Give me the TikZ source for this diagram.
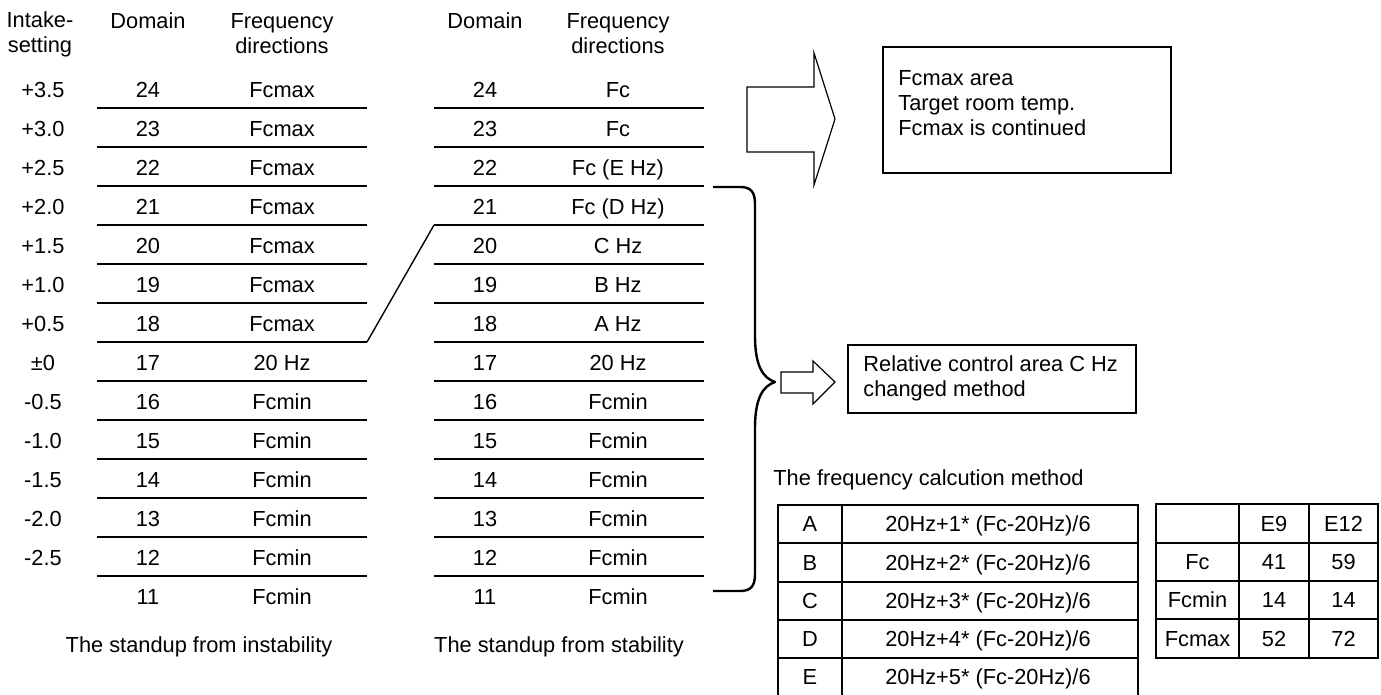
\documentclass[tikz,border=0pt]{standalone}
\usepackage{fontspec}
\setmainfont{Liberation Sans}
\usetikzlibrary{positioning,calc}

\begin{document}
\begin{tikzpicture}[x=0.5pt, y=-0.5pt,
    txt/.style={font=\fontsize{10.9}{12.6}\selectfont, inner sep=0pt},
    cell/.style={txt, text height=7.8pt, text depth=0pt},
    head/.style={txt, align=center},
    rule/.style={line width=1pt},
    grid/.style={line width=0.8pt},
    box/.style={draw, line width=0.75pt, inner sep=0pt},
    blockarrow/.style={draw, line width=0.6pt, line join=miter},
    brace/.style={line width=1.2pt, line join=round},
    link/.style={line width=0.7pt},
]

\useasboundingbox (0,0) rectangle (1381,695);

% Column headings
\node[head] (hintake) at (40,34) {Intake-\\setting};
\node[cell] (hdomA) at (148,21) {Domain};
\node[head] (hfreqA) at (282,34) {Frequency\\directions};
\node[cell] (hdomB) at (485,21) {Domain};
\node[head] (hfreqB) at (618,34) {Frequency\\directions};

% Intake settings
\foreach \v [count=\k from 0] in {+3.5,+3.0,+2.5,+2.0,+1.5,+1.0,+0.5,±0,-0.5,-1.0,-1.5,-2.0,-2.5}
  \node[cell] (in\k) at (43,90+39*\k) {\v};

% Domains and frequency directions
\foreach \d/\fa/\fb [count=\k from 0] in {24/Fcmax/Fc, 23/Fcmax/Fc, 22/Fcmax/Fc (E Hz),
    21/Fcmax/Fc (D Hz), 20/Fcmax/C Hz, 19/Fcmax/B Hz, 18/Fcmax/A Hz, 17/20 Hz/20 Hz,
    16/Fcmin/Fcmin, 15/Fcmin/Fcmin, 14/Fcmin/Fcmin, 13/Fcmin/Fcmin, 12/Fcmin/Fcmin, 11/Fcmin/Fcmin} {
  \node[cell] (domA\d) at (148,90+39*\k) {\d};
  \node[cell] (frqA\d) at (282,90+39*\k) {\fa};
  \node[cell] (domB\d) at (485,90+39*\k) {\d};
  \node[cell] (frqB\d) at (618,90+39*\k) {\fb};
}

% Row rules
\foreach \k in {0,...,12} {
  \draw[rule] (97,108+39*\k) -- (367,108+39*\k);
  \draw[rule] (434,108+39*\k) -- (704,108+39*\k);
}

% Link 18 -> 21
\coordinate (endA18) at (367,342);
\coordinate (startB21) at (434,225);
\draw[link] (endA18) -- (startB21);

\node[cell] (capA) at (199,645) {The standup from instability};
\node[cell] (capB) at (559,645) {The standup from stability};

% Brace
\coordinate (btop) at (713,187);
\coordinate (bbot) at (713,591);
\coordinate (btip) at (775,382);
\draw[brace] (btop) -- (740,187) .. controls (751,187) and (755,192) .. (755,204)
  -- (755,336) .. controls (755,366) and (763,378) .. (btip)
  .. controls (763,386) and (755,398) .. (755,428)
  -- (755,574) .. controls (755,586) and (751,591) .. (740,591) -- (bbot);

% Block arrows
\draw[blockarrow] (747,87) -- (814,87) -- (814,53) -- (835,119) -- (814,185) -- (814,152) -- (747,152) -- cycle;
\draw[blockarrow] (781,372) -- (813,372) -- (813,361) -- (835,382) -- (813,404) -- (813,393) -- (781,393) -- cycle;

% Boxes
\node[box, minimum width=144pt, minimum height=63pt] (maxbox) at (1027,110) {};
\node[txt, align=left, anchor=west] (maxtext) at (898,103) {Fcmax area\\Target room temp.\\Fcmax is continued};
\node[box, minimum width=144pt, minimum height=34pt] (relbox) at (992,379) {};
\node[txt, align=left, anchor=west] (reltext) at (863,378) {Relative control area C Hz\\changed method};

% Frequency calculation table
\node[txt, anchor=west] (calctitle) at (773,480) {The frequency calcution method};
\draw[grid] (778,505) rectangle (1138,697);
\draw[grid] (842,505) -- (842,697);
\foreach \y in {543,582,620,658}
  \draw[grid] (778,\y) -- (1138,\y);
\foreach \l/\n [count=\i from 0] in {A/1,B/2,C/3,D/4,E/5} {
  \node[cell] (let\l) at (810,524+38.25*\i) {\l};
  \node[cell] (eq\l) at (988,524+38.25*\i) {20Hz+\n* (Fc-20Hz)/6};
}

% Model values table
\draw[grid] (1156,504) rectangle (1378,658);
\draw[grid] (1239,504) -- (1239,658);
\draw[grid] (1309,504) -- (1309,658);
\foreach \y in {543,581,619}
  \draw[grid] (1156,\y) -- (1378,\y);
\node[cell] (hE9) at (1274,523.5) {E9};
\node[cell] (hE12) at (1343.5,523.5) {E12};
\foreach \n/\a/\b [count=\i from 1] in {Fc/41/59, Fcmin/14/14, Fcmax/52/72} {
  \node[cell] (val\n) at (1197.5,523.5+38.3*\i) {\n};
  \node[cell] (e9\n) at (1274,523.5+38.3*\i) {\a};
  \node[cell] (e12\n) at (1343.5,523.5+38.3*\i) {\b};
}

\end{tikzpicture}
\end{document}
